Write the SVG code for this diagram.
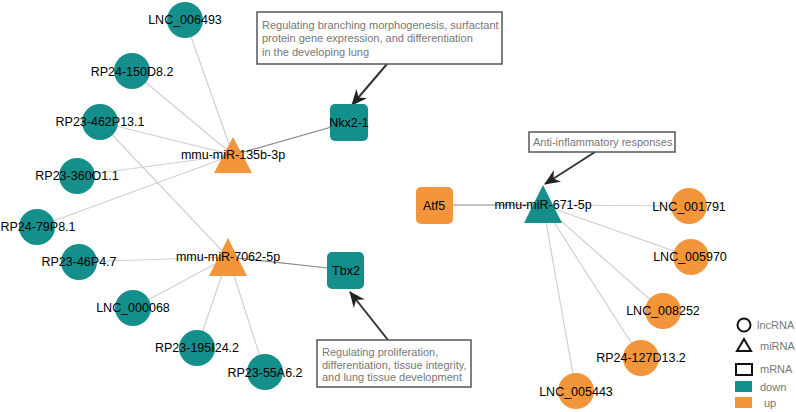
<svg xmlns="http://www.w3.org/2000/svg" width="796" height="412" viewBox="0 0 796 412">
<style>
.lnc{stroke:#d0d0d0;stroke-width:1.2;fill:none}
.mr{stroke:#888;stroke-width:1.2;fill:none}
.call{stroke:#333;stroke-width:2;fill:none}
.down{fill:#148f8b}
.up{fill:#f3953a}
.lbl{font-family:"Liberation Sans",Arial,sans-serif;font-size:12.5px;fill:#000;text-anchor:middle;dominant-baseline:central}
.box{fill:#fff;stroke:#555;stroke-width:1.5}
.ct{font-family:"Liberation Sans",Arial,sans-serif;font-size:11px;fill:#777}
.leg{font-family:"Liberation Sans",Arial,sans-serif;font-size:11px;fill:#777;dominant-baseline:central}
.ls{fill:none;stroke:#111;stroke-width:2}
</style>
<defs>
<marker id="ah" viewBox="0 0 16 14" refX="15" refY="7" markerWidth="16" markerHeight="14" markerUnits="userSpaceOnUse" orient="auto">
<path d="M0,0 L16,7 L0,14 L5,7 z" fill="#222"/>
</marker>
</defs>
<rect width="796" height="412" fill="#fff"/>
<g id="connectors">
<line class="lnc" x1="233" y1="155" x2="185" y2="20"/>
<line class="lnc" x1="233" y1="155" x2="132" y2="71"/>
<line class="lnc" x1="233" y1="155" x2="100" y2="122"/>
<line class="lnc" x1="233" y1="155" x2="77" y2="176"/>
<line class="lnc" x1="233" y1="155" x2="37" y2="227"/>
<line class="mr" x1="233" y1="155" x2="349" y2="122"/>
<line class="lnc" x1="228" y1="257" x2="100" y2="122"/>
<line class="lnc" x1="228" y1="257" x2="79" y2="262"/>
<line class="lnc" x1="228" y1="257" x2="133" y2="308"/>
<line class="lnc" x1="228" y1="257" x2="197" y2="348"/>
<line class="lnc" x1="228" y1="257" x2="265" y2="372"/>
<line class="mr" x1="228" y1="257" x2="346" y2="270"/>
<line class="mr" x1="543" y1="205" x2="434" y2="205"/>
<line class="lnc" x1="543" y1="205" x2="689" y2="206"/>
<line class="lnc" x1="543" y1="205" x2="691" y2="257"/>
<line class="lnc" x1="543" y1="205" x2="663" y2="311"/>
<line class="lnc" x1="543" y1="205" x2="641" y2="358"/>
<line class="lnc" x1="543" y1="205" x2="576" y2="391"/>
<line class="call" x1="387" y1="64" x2="352" y2="105" marker-end="url(#ah)"/>
<line class="call" x1="388" y1="340" x2="350" y2="292" marker-end="url(#ah)"/>
<line class="call" x1="595" y1="152" x2="545" y2="184" marker-end="url(#ah)"/>
</g>
<g id="LNC_006493"><circle class="down" cx="185" cy="20" r="18"/><text class="lbl" x="185" y="20">LNC_006493</text></g>
<g id="RP24-150D8.2"><circle class="down" cx="132" cy="71" r="18"/><text class="lbl" x="132" y="72">RP24-150D8.2</text></g>
<g id="RP23-462P13.1"><circle class="down" cx="100" cy="122" r="18"/><text class="lbl" x="100" y="122">RP23-462P13.1</text></g>
<g id="RP23-360O1.1"><circle class="down" cx="77" cy="176" r="18"/><text class="lbl" x="77" y="176">RP23-360O1.1</text></g>
<g id="RP24-79P8.1"><circle class="down" cx="37" cy="227" r="18"/><text class="lbl" x="38" y="227">RP24-79P8.1</text></g>
<g id="RP23-46P4.7"><circle class="down" cx="79" cy="262" r="18"/><text class="lbl" x="79" y="262">RP23-46P4.7</text></g>
<g id="LNC_000068"><circle class="down" cx="133" cy="308" r="18"/><text class="lbl" x="133" y="308">LNC_000068</text></g>
<g id="RP23-195I24.2"><circle class="down" cx="197" cy="348" r="18"/><text class="lbl" x="197" y="348">RP23-195I24.2</text></g>
<g id="RP23-55A6.2"><circle class="down" cx="265" cy="372" r="18"/><text class="lbl" x="265" y="373">RP23-55A6.2</text></g>
<g id="mmu-miR-135b-3p"><polygon class="up" points="233,137 252,173 214,173"/><text class="lbl" x="233" y="155">mmu-miR-135b-3p</text></g>
<g id="mmu-miR-7062-5p"><polygon class="up" points="228,238 247,276 209,276"/><text class="lbl" x="228" y="257">mmu-miR-7062-5p</text></g>
<g id="Nkx2-1"><rect class="down" x="330" y="104" width="38" height="37" rx="5"/><text class="lbl" x="349" y="123">Nkx2-1</text></g>
<g id="Tbx2"><rect class="down" x="327" y="252" width="37" height="37" rx="5"/><text class="lbl" x="346" y="271">Tbx2</text></g>
<g id="mmu-miR-671-5p"><polygon class="down" points="543,185 562,223 524,223"/><text class="lbl" x="543" y="205">mmu-miR-671-5p</text></g>
<g id="Atf5"><rect class="up" x="416" y="187" width="37" height="37" rx="5"/><text class="lbl" x="434" y="206">Atf5</text></g>
<g id="LNC_001791"><circle class="up" cx="689" cy="206" r="18"/><text class="lbl" x="689" y="207">LNC_001791</text></g>
<g id="LNC_005970"><circle class="up" cx="691" cy="257" r="18"/><text class="lbl" x="690" y="257">LNC_005970</text></g>
<g id="LNC_008252"><circle class="up" cx="663" cy="311" r="18"/><text class="lbl" x="663" y="311">LNC_008252</text></g>
<g id="RP24-127D13.2"><circle class="up" cx="641" cy="358" r="18"/><text class="lbl" x="641" y="358">RP24-127D13.2</text></g>
<g id="LNC_005443"><circle class="up" cx="576" cy="391" r="18"/><text class="lbl" x="576" y="392">LNC_005443</text></g>
<g id="callout-nkx">
<rect class="box" x="257" y="12" width="245" height="52"/>
<text class="ct" x="262" y="29">Regulating branching morphogenesis, surfactant</text>
<text class="ct" x="262" y="42">protein gene expression, and differentiation</text>
<text class="ct" x="262" y="56">in the developing lung</text>
</g>
<g id="callout-tbx">
<rect class="box" x="317" y="340" width="154" height="47"/>
<text class="ct" x="322" y="356">Regulating proliferation,</text>
<text class="ct" x="322" y="369">differentiation, tissue integrity,</text>
<text class="ct" x="322" y="381">and lung tissue development</text>
</g>
<g id="callout-671">
<rect class="box" x="529" y="132" width="146" height="20"/>
<text class="ct" x="533" y="146">Anti-inflammatory responses</text>
</g>
<g id="legend">
<circle class="ls" cx="744" cy="325" r="6.5"/><text class="leg" x="757" y="325">lncRNA</text>
<polygon class="ls" points="744,339 751,351 737,351"/><text class="leg" x="760" y="346">miRNA</text>
<rect class="ls" x="736" y="364" width="16" height="11"/><text class="leg" x="760" y="369">mRNA</text>
<rect class="down" x="735" y="381" width="17" height="11"/><text class="leg" x="760" y="387">down</text>
<rect class="up" x="735" y="397" width="17" height="11"/><text class="leg" x="764" y="403">up</text>
</g>
</svg>
